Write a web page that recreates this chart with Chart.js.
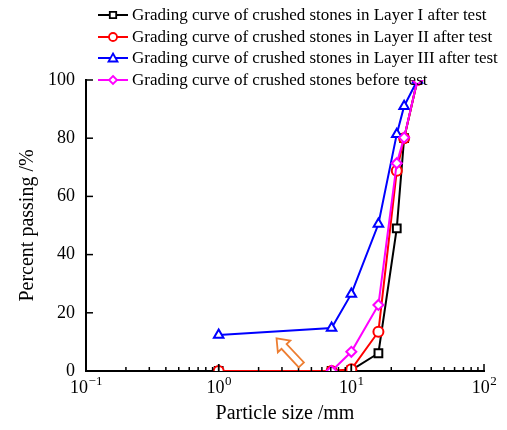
<!DOCTYPE html>
<html>
<head>
<meta charset="utf-8">
<script src="https://cdn.jsdelivr.net/npm/chart.js@4"></script>
<style>
  body { margin: 0; background: #fff; }
  #wrap { width: 507px; height: 430px; }
</style>
</head>
<body>
<div id="wrap"><canvas id="myChart" width="507" height="430"></canvas></div>
<script>
// particle sizes (mm)
var sizes = [1, 7.1, 10, 16, 22, 25, 31.5];
// percent passing
var layer1 = [0, 0, 0.3, 6.1, 49, 80, 100];
var layer2 = [0, 0, 0.6, 13.5, 68.8, 80, 100];
var layer3 = [12.4, 14.8, 26.5, 50.5, 81.4, 91, 100];
var beforeTest = [null, 0, 6.6, 22.7, 71.4, 80.2, 100];

var seriesNames = [
  'Grading curve of crushed stones in Layer I after test',
  'Grading curve of crushed stones in Layer II after test',
  'Grading curve of crushed stones in Layer III after test',
  'Grading curve of crushed stones before test'
];
var seriesColors = ['#000000', '#ff0000', '#0000ff', '#ff00ff'];
var seriesMarkers = ['rect', 'circle', 'triangle', 'rectRot'];
var yTicks = [0, 20, 40, 60, 80, 100];
var xMajor = [0.1, 1, 10, 100];
var xMajorExp = ['\u22121', '0', '1', '2'];

var serif = '"Liberation Serif", "Times New Roman", serif';

function toPoints(vals) {
  var pts = [];
  for (var i = 0; i < sizes.length; i++) {
    if (vals[i] === null) continue;
    pts.push({x: sizes[i], y: vals[i]});
  }
  return pts;
}

var allVals = [layer1, layer2, layer3, beforeTest];
var radii = [5.5, 5, 5.5, 5];
var datasets = [];
for (var i = 0; i < allVals.length; i++) {
  datasets.push({
    label: seriesNames[i],
    data: toPoints(allVals[i]),
    borderColor: seriesColors[i],
    backgroundColor: '#ffffff',
    borderWidth: 2,
    pointStyle: seriesMarkers[i],
    pointRadius: radii[i],
    pointBorderWidth: 2,
    pointBackgroundColor: '#ffffff',
    pointBorderColor: seriesColors[i],
    tension: 0,
    order: 3 - i
  });
}

// inward tick marks, x labels with exponents, legend and the orange arrow
var extrasPlugin = {
  id: 'extras',
  afterDraw: function(chart) {
    var ctx = chart.ctx;
    var xs = chart.scales.x, ys = chart.scales.y;
    var area = chart.chartArea;
    ctx.save();
    ctx.strokeStyle = '#000';
    ctx.lineWidth = 1.5;
    // x ticks
    for (var d = -1; d < 2; d++) {
      for (var m = 1; m <= 10; m++) {
        var v = m * Math.pow(10, d);
        var px = xs.getPixelForValue(v);
        var len = (m === 1 || m === 10) ? 7 : 4;
        ctx.beginPath();
        ctx.moveTo(px, area.bottom);
        ctx.lineTo(px, area.bottom - len);
        ctx.stroke();
      }
    }
    // y ticks
    for (var k = 0; k < yTicks.length; k++) {
      var py = ys.getPixelForValue(yTicks[k]);
      ctx.beginPath();
      ctx.moveTo(area.left, py);
      ctx.lineTo(area.left + 7, py);
      ctx.stroke();
    }

    // x tick labels 10^n
    ctx.fillStyle = '#000';
    ctx.textBaseline = 'alphabetic';
    ctx.textAlign = 'left';
    for (var j = 0; j < xMajor.length; j++) {
      var cx = xs.getPixelForValue(xMajor[j]);
      ctx.font = '18px ' + serif;
      var wBase = ctx.measureText('10').width;
      ctx.font = '13px ' + serif;
      var wExp = ctx.measureText(xMajorExp[j]).width;
      var x0 = cx - (wBase + wExp) / 2;
      ctx.font = '18px ' + serif;
      ctx.fillText('10', x0, 393);
      ctx.font = '13px ' + serif;
      ctx.fillText(xMajorExp[j], x0 + wBase + 0.5, 385);
    }

    // orange hollow arrow
    var tx = xs.getPixelForValue(4.2), ty = ys.getPixelForValue(2.1);
    var hx = xs.getPixelForValue(2.73), hy = ys.getPixelForValue(11.2);
    var ang = Math.atan2(hy - ty, hx - tx);
    var L = Math.sqrt((hx - tx) * (hx - tx) + (hy - ty) * (hy - ty));
    ctx.translate(tx, ty);
    ctx.rotate(ang);
    var hw = 3.5, headW = 8.5, headL = 11;
    ctx.beginPath();
    ctx.moveTo(0, -hw);
    ctx.lineTo(L - headL, -hw);
    ctx.lineTo(L - headL, -headW);
    ctx.lineTo(L, 0);
    ctx.lineTo(L - headL, headW);
    ctx.lineTo(L - headL, hw);
    ctx.lineTo(0, hw);
    ctx.closePath();
    ctx.fillStyle = '#ffffff';
    ctx.fill();
    ctx.strokeStyle = '#ed7d31';
    ctx.lineWidth = 1.8;
    ctx.stroke();
    ctx.restore();

    // legend
    ctx.save();
    var rowY = [15, 37, 58, 80];
    ctx.font = '17px ' + serif;
    ctx.textBaseline = 'middle';
    ctx.textAlign = 'left';
    for (var s = 0; s < seriesNames.length; s++) {
      var y = rowY[s];
      ctx.strokeStyle = seriesColors[s];
      ctx.lineWidth = 2;
      ctx.beginPath();
      ctx.moveTo(98, y);
      ctx.lineTo(128, y);
      ctx.stroke();
      ctx.fillStyle = '#ffffff';
      ctx.lineWidth = 1.8;
      ctx.beginPath();
      if (seriesMarkers[s] === 'rect') {
        ctx.rect(113 - 3.2, y - 3.2, 6.4, 6.4);
      } else if (seriesMarkers[s] === 'circle') {
        ctx.arc(113, y, 4, 0, Math.PI * 2);
      } else if (seriesMarkers[s] === 'triangle') {
        ctx.moveTo(113, y - 4.5);
        ctx.lineTo(117.5, y + 3.5);
        ctx.lineTo(108.5, y + 3.5);
        ctx.closePath();
      } else {
        ctx.moveTo(113, y - 4);
        ctx.lineTo(117, y);
        ctx.lineTo(113, y + 4);
        ctx.lineTo(109, y);
        ctx.closePath();
      }
      ctx.fill();
      ctx.stroke();
      ctx.fillStyle = '#000';
      ctx.fillText(seriesNames[s], 132, y + 1);
    }
    ctx.restore();
  }
};

var ctx = document.getElementById('myChart').getContext('2d');
var myChart = new Chart(ctx, {
  type: 'line',
  data: { datasets: datasets },
  options: {
    responsive: false,
    animation: false,
    layout: { padding: { top: 80, right: 23, left: 0, bottom: 0 } },
    plugins: {
      legend: { display: false },
      tooltip: { enabled: false }
    },
    scales: {
      x: {
        type: 'logarithmic',
        min: 0.1,
        max: 100,
        grid: { display: false, drawTicks: false },
        border: { display: true, color: '#000', width: 2 },
        ticks: {
          autoSkip: false,
          maxRotation: 0,
          padding: 5,
          color: '#000',
          font: { family: serif, size: 18 },
          callback: function() { return ''; }
        },
        title: {
          display: true,
          text: 'Particle size /mm',
          color: '#000',
          font: { family: serif, size: 20 },
          padding: { top: 0, bottom: 4 }
        },
        afterFit: function(scale) { scale.height = 59; }
      },
      y: {
        min: 0,
        max: 100,
        grid: { display: false, drawTicks: false },
        border: { display: true, color: '#000', width: 2 },
        ticks: {
          stepSize: 20,
          padding: 11,
          color: '#000',
          font: { family: serif, size: 18 }
        },
        title: {
          display: true,
          text: 'Percent passing /%',
          color: '#000',
          font: { family: serif, size: 20 },
          padding: { top: 16, bottom: 0 }
        },
        afterFit: function(scale) { scale.width = 86; }
      }
    }
  },
  plugins: [extrasPlugin]
});
</script>
</body>
</html>
